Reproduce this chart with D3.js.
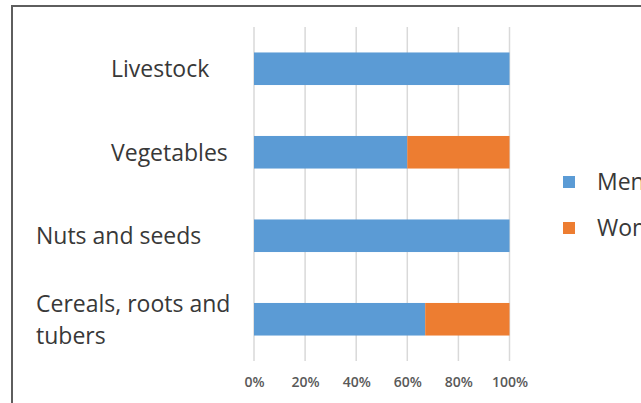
<!DOCTYPE html>
<html>
<head>
<meta charset="utf-8">
<script src="https://cdn.jsdelivr.net/npm/d3@7"></script>
<style>
  html, body { margin: 0; padding: 0; background: #fff; overflow: hidden; }
  svg { display: block; font-family: "Open Sans", sans-serif; }
</style>
</head>
<body>
<svg id="chart" width="641" height="403"></svg>
<script>
// Share of men and women working in each crop / livestock activity (%)
const categories = ["Livestock", "Vegetables", "Nuts and seeds", "Cereals, roots and tubers"];
const menShare   = [100, 60, 100, 67];
const womenShare = [0, 40, 0, 33];
const seriesNames = ["Men", "Women"];
const tickValues = [0, 20, 40, 60, 80, 100];

const colors = { Men: "#5B9BD5", Women: "#ED7D31" };

const svg = d3.select("#chart");

// chart frame
svg.append("rect")
  .attr("x", 12).attr("y", 6)
  .attr("width", 660).attr("height", 420)
  .attr("fill", "#fff")
  .attr("stroke", "#5e5e5e")
  .attr("stroke-width", 2);

const plot = { left: 254, right: 509.5, top: 27, bottom: 361 };

const x = d3.scaleLinear().domain([0, 100]).range([plot.left, plot.right]);
const y = d3.scaleBand().domain(categories).range([plot.top, plot.bottom]).padding(0);
const barH = y.bandwidth() * 0.39;

// vertical gridlines
svg.append("g")
  .selectAll("line")
  .data(tickValues)
  .join("line")
  .attr("x1", d => x(d)).attr("x2", d => x(d))
  .attr("y1", plot.top).attr("y2", plot.bottom)
  .attr("stroke", "#d9d9d9")
  .attr("stroke-width", 1.5);

// stacked bars
const rows = categories.map((c, i) => ({ category: c, Men: menShare[i], Women: womenShare[i] }));
const stacked = d3.stack().keys(seriesNames)(rows);

svg.append("g")
  .selectAll("g")
  .data(stacked)
  .join("g")
  .attr("fill", s => colors[s.key])
  .selectAll("rect")
  .data(s => s)
  .join("rect")
  .attr("x", d => x(d[0]))
  .attr("width", d => x(d[1]) - x(d[0]))
  .attr("y", d => y(d.data.category) + (y.bandwidth() - barH) / 2)
  .attr("height", barH);

// x axis tick labels
const xAxis = d3.axisBottom(x)
  .tickValues(tickValues)
  .tickFormat(d => d + "%")
  .tickSize(0)
  .tickPadding(0);

const axisG = svg.append("g")
  .attr("transform", `translate(0,${plot.bottom + 16})`)
  .call(xAxis);
axisG.select(".domain").remove();
axisG.selectAll("text")
  .attr("font-family", "'Open Sans', sans-serif")
  .attr("font-size", 14)
  .attr("font-weight", 600)
  .attr("fill", "#595959");

// category labels (long names wrap onto two lines, starting further left)
const wrapLines = {
  "Cereals, roots and tubers": ["Cereals, roots and", "tubers"]
};
const lineH = 32;
const labelG = svg.append("g")
  .attr("font-size", 23)
  .attr("fill", "#383838");

categories.forEach(c => {
  const lines = wrapLines[c] || [c];
  const startX = c.length > 12 ? 36 : 111;
  const cy = y(c) + y.bandwidth() / 2;
  const t = labelG.append("text")
    .attr("x", startX)
    .attr("y", cy - (lines.length - 1) * lineH / 2);
  lines.forEach((ln, i) => {
    t.append("tspan")
      .attr("x", startX)
      .attr("dy", i === 0 ? "0.36em" : lineH)
      .text(ln);
  });
});

// legend
const legend = svg.append("g").attr("transform", "translate(563,182)");
seriesNames.forEach((name, i) => {
  const g = legend.append("g").attr("transform", `translate(0,${i * 46})`);
  g.append("rect")
    .attr("x", 0).attr("y", -6)
    .attr("width", 12).attr("height", 12)
    .attr("fill", colors[name]);
  g.append("text")
    .attr("x", 34).attr("y", 0).attr("dy", "0.36em")
    .attr("font-size", 23)
    .attr("fill", "#383838")
    .text(name);
});
</script>
</body>
</html>
